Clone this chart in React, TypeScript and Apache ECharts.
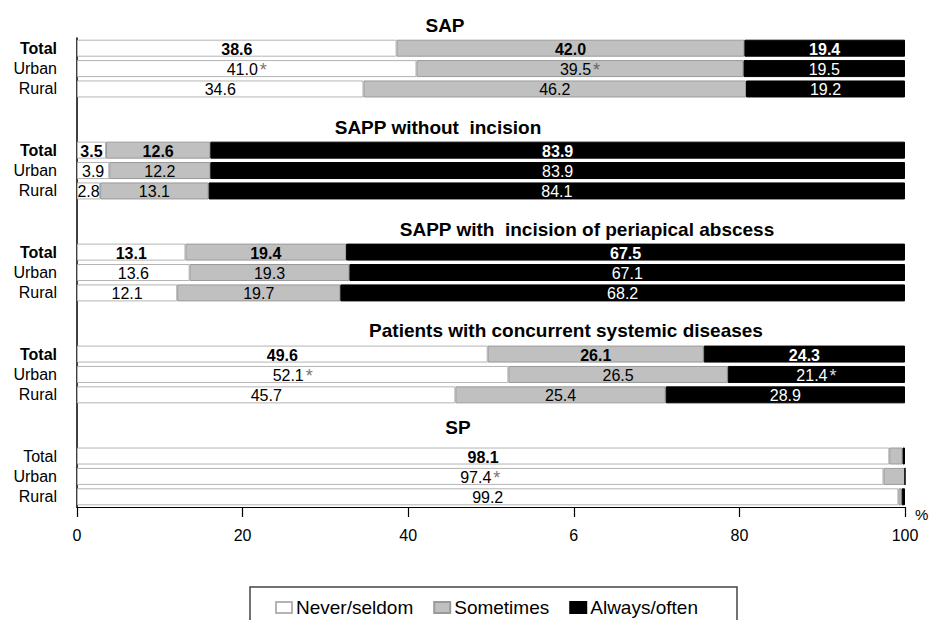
import React, { useEffect, useRef } from "react";
import * as echarts from "echarts";

const groupTitles = [
  "SAP",
  "SAPP without  incision",
  "SAPP with  incision of periapical abscess",
  "Patients with concurrent systemic diseases",
  "SP",
];
const rowNames = ["Total", "Urban", "Rural"];

// values per group: [Total, Urban, Rural]
const neverSeldom = [
  [38.6, 41.0, 34.6],
  [3.5, 3.9, 2.8],
  [13.1, 13.6, 12.1],
  [49.6, 52.1, 45.7],
  [98.1, 97.4, 99.2],
];
const sometimes = [
  [42.0, 39.5, 46.2],
  [12.6, 12.2, 13.1],
  [19.4, 19.3, 19.7],
  [26.1, 26.5, 25.4],
  [1.6, 2.6, 0.4],
];
const alwaysOften = [
  [19.4, 19.5, 19.2],
  [83.9, 83.9, 84.1],
  [67.5, 67.1, 68.2],
  [24.3, 21.4, 28.9],
  [0.3, 0.0, 0.4],
];
// significance marks (*) per series / group / row
const starNever = [
  [false, true, false],
  [false, false, false],
  [false, false, false],
  [false, true, false],
  [false, true, false],
];
const starSometimes = [
  [false, true, false],
  [false, false, false],
  [false, false, false],
  [false, false, false],
  [false, false, false],
];
const starAlways = [
  [false, false, false],
  [false, false, false],
  [false, false, false],
  [false, true, false],
  [false, false, false],
];
// SP group: the two thin segments carry no label
const showLabelSometimes = [true, true, true, true, false];
const showLabelAlways = [true, true, true, true, false];

const xTickLabels = ["0", "20", "40", "6", "80", "100"];
const seriesNames = ["Never/seldom", "Sometimes", "Always/often"];

type Slot = { g: number; r: number } | null;

const FONT = '"Liberation Sans", Arial, sans-serif';
const NARROW = '"Liberation Sans Narrow", "Arial Narrow", "Liberation Sans", Arial, sans-serif';

export default function App() {
  const ref = useRef<HTMLDivElement>(null);

  useEffect(() => {
    if (!ref.current) return;
    const chart = echarts.init(ref.current, null, { renderer: "svg" });

    const slots: Slot[] = [];
    groupTitles.forEach((_, g) => {
      rowNames.forEach((_, r) => slots.push({ g, r }));
      if (g < groupTitles.length - 1) {
        slots.push(null);
        slots.push(null);
      }
    });

    const build = (vals: number[][]) =>
      slots.map((s) => (s ? vals[s.g][s.r] : "-"));

    const makeLabel = (
      stars: boolean[][],
      shows: boolean[] | null,
      color: string,
      starColor: string
    ) => ({
      show: true,
      position: "inside",
      offset: [0, 1],
      color,
      fontFamily: NARROW,
      fontSize: 16,
      formatter: (p: any) => {
        const s = slots[p.dataIndex];
        if (!s) return "";
        if (shows && !shows[s.g]) return "";
        const v = Number(p.value).toFixed(1);
        const main = s.r === 0 ? `{b|${v}}` : `{n|${v}}`;
        return stars[s.g][s.r] ? `${main}{a|*}` : main;
      },
      rich: {
        b: { fontWeight: "bold", fontSize: 16, fontFamily: NARROW, color, lineHeight: 17 },
        n: { fontSize: 16, fontFamily: NARROW, color, lineHeight: 17 },
        a: {
          fontSize: 18,
          fontFamily: FONT,
          color: starColor,
          lineHeight: 17,
          verticalAlign: "top",
          padding: [0, 0, 4, 2],
        },
      },
    });

    const titleY = [25, 127, 229, 330, 427];
    const titleX = [445, 438, 587, 566, 458];

    const option: any = {
      animation: false,
      backgroundColor: "#ffffff",
      textStyle: { fontFamily: FONT },
      grid: { left: 77, right: 28, top: 38, bottom: 113, containLabel: false },
      xAxis: {
        type: "value",
        min: 0,
        max: 100,
        interval: 20,
        name: "%",
        nameLocation: "end",
        nameGap: 10,
        nameTextStyle: {
          color: "#000",
          fontSize: 15,
          fontFamily: FONT,
          verticalAlign: "top",
          padding: [0, 0, 0, 0],
        },
        axisLine: { show: true, lineStyle: { color: "#000", width: 1.2 } },
        axisTick: { show: true, length: 10, lineStyle: { color: "#000", width: 1.2 } },
        splitLine: { show: false },
        axisLabel: {
          color: "#000",
          fontSize: 16,
          fontFamily: FONT,
          margin: 20,
          formatter: (v: number) => xTickLabels[Math.round(v / 20)] ?? "",
        },
      },
      yAxis: {
        type: "category",
        inverse: true,
        data: slots.map((s) => (s ? rowNames[s.r] : "")),
        axisLine: { show: true, lineStyle: { color: "#000", width: 1.5 } },
        axisTick: { show: false },
        splitLine: { show: false },
        axisLabel: {
          interval: 0,
          color: "#000",
          fontSize: 16,
          fontFamily: FONT,
          margin: 20,
          formatter: (value: string, index: number) => {
            const s = slots[index];
            if (!s) return "";
            if (s.r === 0 && s.g < groupTitles.length - 1) return `{b|${value}}`;
            return value;
          },
          rich: {
            b: { fontWeight: "bold", fontSize: 16, fontFamily: FONT, color: "#000" },
          },
        },
      },
      legend: {
        left: 270,
        top: 593,
        itemWidth: 16,
        itemHeight: 11,
        itemGap: 20,
        icon: "rect",
        textStyle: { color: "#000", fontSize: 19, fontFamily: FONT, padding: [0, 0, 0, -1] },
        data: seriesNames,
      },
      graphic: [
        {
          type: "rect",
          shape: { x: 250, y: 587, width: 487, height: 45 },
          style: { fill: "none", stroke: "#444", lineWidth: 1.5 },
          silent: true,
        },
        ...groupTitles.map((t, i) => ({
          type: "text",
          x: titleX[i],
          y: titleY[i],
          style: {
            text: t,
            fill: "#000",
            fontSize: 19,
            fontWeight: "bold",
            fontFamily: FONT,
            align: "center",
            verticalAlign: "middle",
          },
          silent: true,
        })),
      ],
      series: [
        {
          name: seriesNames[0],
          type: "bar",
          stack: "all",
          barWidth: 17,
          data: build(neverSeldom),
          itemStyle: { color: "#ffffff", borderColor: "#b4b4b4", borderWidth: 1 },
          label: makeLabel(starNever, null, "#000", "#777"),
        },
        {
          name: seriesNames[1],
          type: "bar",
          stack: "all",
          barWidth: 17,
          data: build(sometimes),
          itemStyle: { color: "#c0c0c0", borderColor: "#9a9a9a", borderWidth: 1 },
          label: makeLabel(starSometimes, showLabelSometimes, "#000", "#666"),
        },
        {
          name: seriesNames[2],
          type: "bar",
          stack: "all",
          barWidth: 17,
          data: build(alwaysOften),
          itemStyle: { color: "#000000", borderColor: "#000", borderWidth: 1 },
          label: makeLabel(starAlways, showLabelAlways, "#fff", "#ddd"),
        },
      ],
    };

    chart.setOption(option);
    return () => chart.dispose();
  }, []);

  return (
    <div
      ref={ref}
      style={{ position: "absolute", left: 0, top: 0, width: 933, height: 620, background: "#fff" }}
    />
  );
}
